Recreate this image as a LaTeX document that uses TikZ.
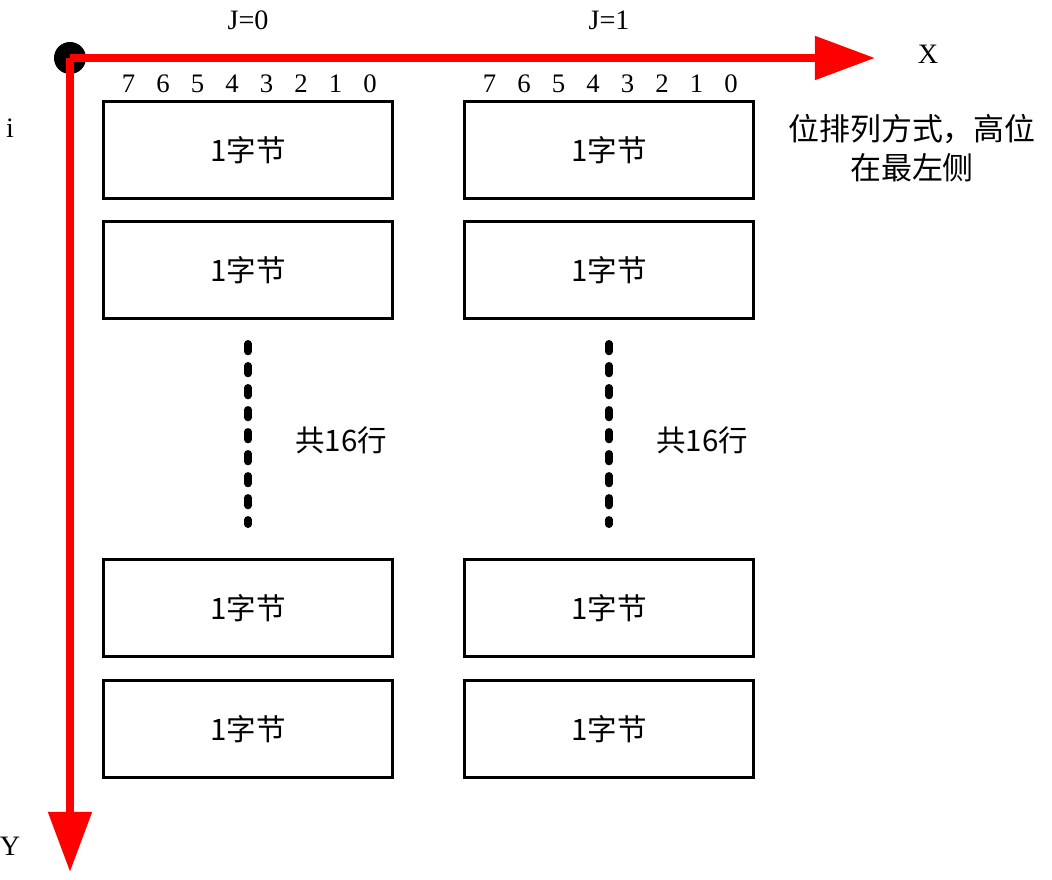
\documentclass[tikz,border=0pt]{standalone}
\usepackage{fontspec}
\setmainfont{Liberation Serif}
\newfontfamily\cjk{Noto Sans CJK SC}
\usetikzlibrary{arrows.meta, positioning}

\begin{document}
\begin{tikzpicture}[
  x=0.025cm, y=-0.025cm,
  byte/.style={
    draw,
    line width=1.6pt,
    minimum width=7.225cm,
    minimum height=2.425cm,
    inner sep=0pt,
    font=\fontsize{21}{23}\selectfont\cjk
  },
  axis/.style={
    -{Triangle[length=1.5cm, width=1.05cm]},
    line width=0.2cm,
    red
  },
  rows/.style={
    line width=0.18cm,
    line cap=round,
    dash pattern=on 0.2cm off 0.35cm
  },
  lbl/.style={font=\fontsize{20}{22}\selectfont},
  bits/.style={font=\fontsize{19}{21}\selectfont, inner sep=0pt}
]
\useasboundingbox (0,0) rectangle (1052,880);

% Axes
\coordinate (xend) at (875,58);
\coordinate (yend) at (70,872);
\node [circle, fill=black, minimum size=0.8cm, inner sep=0pt] (origin) at (70,58) {};
\draw [axis] (origin.center) -- (xend);
\draw [axis] (origin.center) -- (yend);
\node [lbl] (xlab) at (928,54) {X};
\node [lbl] (ylab) at (10,846) {Y};
\node [lbl] (ilab) at (10,128) {i};

% Columns
\foreach \col/\cx/\j in {a/248/0, b/609/1} {
  \node [lbl] (J\col) at (\cx,20) {J=\j};
  \foreach \b in {0,...,7}
    \node [bits] (bit\col\b) at (\cx+122-\b*34.5,84) {\b};
  \foreach \r/\cy in {1/150, 2/270, 3/608, 4/729}
    \node [byte] (\col\r) at (\cx,\cy) {1字节};
  \draw [rows] ([yshift=-0.6cm]\col2.south) -- ([yshift=0.85cm]\col3.north);
  \node [lbl, font=\fontsize{21}{23}\selectfont\cjk] (cnt\col) at (\cx+93,440) {共16行};
}

% Note
\node [align=center, font=\fontsize{22}{28}\selectfont\cjk] (note) at (912,148) {位排列方式，高位\\在最左侧};

\end{tikzpicture}
\end{document}
